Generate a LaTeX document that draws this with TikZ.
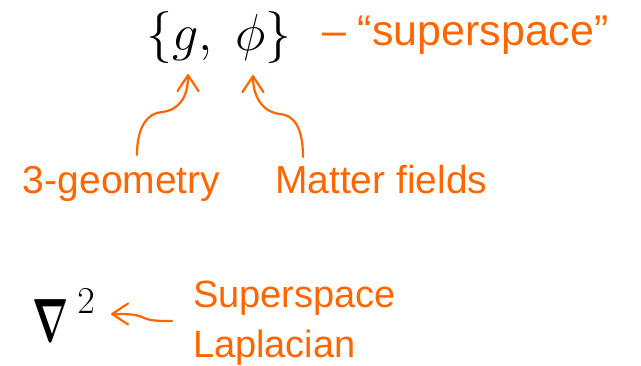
\RequirePackage{fix-cm}
\documentclass[tikz,border=0pt]{standalone}
\usepackage{amsmath,amssymb,graphicx}
\usepackage{fontspec}
\setmainfont{Liberation Sans}
\usetikzlibrary{arrows.meta}
\definecolor{orng}{RGB}{255,102,0}
\tikzset{
  lbl/.style={text=orng, anchor=base west, inner sep=0pt, outer sep=0pt},
  curvearrow/.style={draw=orng, line width=2.2pt, line cap=round,
    -{Straight Barb[length=16pt,width=21pt,line cap=round,line join=round]}},
}
\begin{document}
\begin{tikzpicture}[x=1pt,y=-1pt]
\useasboundingbox (0,0) rectangle (641,365);
% set {g,phi}
\node[anchor=base west, inner sep=0pt, font=\fontsize{52pt}{52pt}\selectfont] (set) at (146,50)
  {$\{g,\;\phi\}$};
\node[lbl, font=\fontsize{43pt}{43pt}\selectfont] (super) at (322,45)
  {– “superspace”};
\node[lbl, font=\fontsize{39pt}{39pt}\selectfont] (geo) at (23,193)
  {3-geometry};
\node[lbl, font=\fontsize{39pt}{39pt}\selectfont] (matter) at (275,193)
  {Matter fields};
\node[lbl, align=left, font=\fontsize{38pt}{50pt}\selectfont] (lap) at (193,357)
  {Superspace\\Laplacian};
\node[anchor=base west, inner sep=0pt, font=\fontsize{61pt}{61pt}\selectfont] (nabla) at (32,341)
  {\scalebox{0.62}[1]{$\boldsymbol{\nabla}$}\hspace{9pt}\raisebox{28pt}{\fontsize{38pt}{38pt}\selectfont$2$}};
% connector ends
\coordinate (gtip) at (188,74);
\coordinate (gstart) at (137,155);
\coordinate (ptip) at (253,75);
\coordinate (pstart) at (303,157);
\coordinate (ntip) at (111,314);
\coordinate (nstart) at (172,321);
\draw[curvearrow] (gstart) .. controls (137,126) and (148,113) .. (162,112)
  .. controls (180,110) and (188,96) .. (gtip);
\draw[curvearrow] (pstart) .. controls (303,126) and (293,115) .. (280,114)
  .. controls (262,112) and (253,96) .. (ptip);
\draw[curvearrow] (nstart) .. controls (158,321) and (150,321) .. (142,317)
  .. controls (135,314) and (126,314) .. (ntip);
\end{tikzpicture}
\end{document}
